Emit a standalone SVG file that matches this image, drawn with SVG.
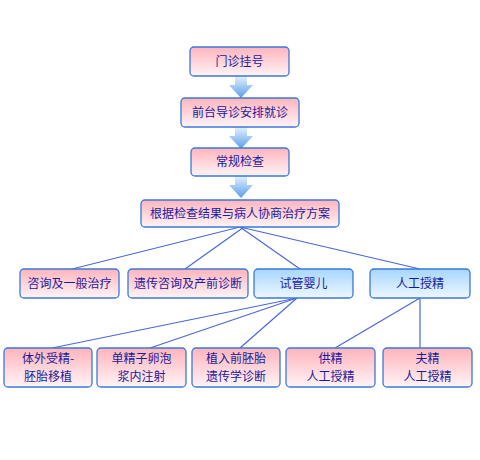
<svg xmlns="http://www.w3.org/2000/svg" width="480" height="460" viewBox="0 0 480 460">
<defs>
<linearGradient id="pink" x1="0" y1="0" x2="0" y2="1">
<stop offset="0" stop-color="#ffb4bc"/>
<stop offset="1" stop-color="#fff4f6"/>
</linearGradient>
<linearGradient id="blue" x1="0" y1="0" x2="0" y2="1">
<stop offset="0" stop-color="#a6d6ff"/>
<stop offset="1" stop-color="#eef8ff"/>
</linearGradient>
<linearGradient id="arr" x1="0" y1="0" x2="0" y2="1">
<stop offset="0" stop-color="#e4f2ff"/>
<stop offset="1" stop-color="#5a9ce8"/>
</linearGradient>
<path id="darrow" d="M-6,0 H6 V9 H12 L0,22 L-12,9 H-6 Z" fill="url(#arr)"/>
</defs>
<style>
.bp{fill:url(#pink);stroke:#3c78d8;stroke-width:1.3}
.bb{fill:url(#blue);stroke:#3c78d8;stroke-width:1.3}
.t{font-family:"Noto Sans CJK SC",sans-serif;font-size:12px;fill:#1a1a9c;text-anchor:middle}
.c line{stroke:#4a68d8;stroke-width:1.2}
</style>
<rect width="480" height="460" fill="#ffffff"/>
<g id="arrows">
<use href="#darrow" x="241" y="76"/>
<use href="#darrow" x="241" y="127"/>
<use href="#darrow" x="241" y="176"/>
</g>
<g class="c" id="connectors">
<line x1="240" y1="227" x2="72" y2="269"/>
<line x1="244" y1="227" x2="185" y2="269"/>
<line x1="240" y1="227" x2="300" y2="269"/>
<line x1="240" y1="227" x2="420" y2="269"/>
<line x1="297" y1="298" x2="52" y2="348"/>
<line x1="297" y1="298" x2="150" y2="348"/>
<line x1="297" y1="298" x2="240" y2="348"/>
<line x1="420" y1="298" x2="335" y2="348"/>
<line x1="420" y1="298" x2="420" y2="348"/>
</g>
<g id="n1"><rect class="bp" x="190" y="47" width="99" height="29" rx="4"/><text class="t" x="239.5" y="66">门诊挂号</text></g>
<g id="n2"><rect class="bp" x="181" y="98" width="118" height="29" rx="4"/><text class="t" x="240" y="117">前台导诊安排就诊</text></g>
<g id="n3"><rect class="bp" x="191" y="148" width="98" height="28" rx="4"/><text class="t" x="240" y="166">常规检查</text></g>
<g id="n4"><rect class="bp" x="141" y="200" width="198" height="27" rx="4"/><text class="t" x="240" y="218">根据检查结果与病人协商治疗方案</text></g>
<g id="n5"><rect class="bp" x="20" y="269" width="99" height="29" rx="4"/><text class="t" x="69.5" y="288">咨询及一般治疗</text></g>
<g id="n6"><rect class="bp" x="128" y="269" width="120" height="29" rx="4"/><text class="t" x="188" y="288">遗传咨询及产前诊断</text></g>
<g id="n7"><rect class="bb" x="254" y="269" width="99" height="29" rx="4"/><text class="t" x="303.5" y="288">试管婴儿</text></g>
<g id="n8"><rect class="bb" x="370" y="269" width="100" height="29" rx="4"/><text class="t" x="420" y="288">人工授精</text></g>
<g id="n9"><rect class="bp" x="4" y="348" width="88" height="39" rx="4"/><text class="t" x="48" y="363">体外受精-</text><text class="t" x="48" y="381">胚胎移植</text></g>
<g id="n10"><rect class="bp" x="97" y="348" width="89" height="39" rx="4"/><text class="t" x="141.5" y="363">单精子卵泡</text><text class="t" x="141.5" y="381">浆内注射</text></g>
<g id="n11"><rect class="bp" x="192" y="348" width="88" height="39" rx="4"/><text class="t" x="236" y="363">植入前胚胎</text><text class="t" x="236" y="381">遗传学诊断</text></g>
<g id="n12"><rect class="bp" x="286" y="348" width="89" height="39" rx="4"/><text class="t" x="330.5" y="363">供精</text><text class="t" x="330.5" y="381">人工授精</text></g>
<g id="n13"><rect class="bp" x="383" y="348" width="89" height="39" rx="4"/><text class="t" x="427.5" y="363">夫精</text><text class="t" x="427.5" y="381">人工授精</text></g>
</svg>
